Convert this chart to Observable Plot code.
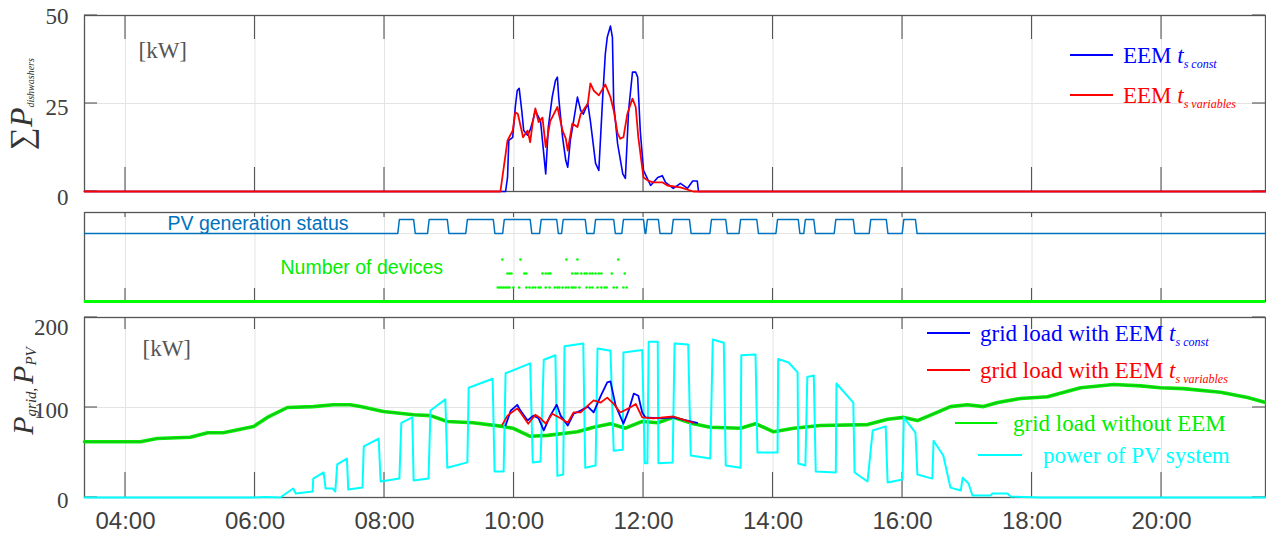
<!DOCTYPE html>
<html><head><meta charset="utf-8">
<script src="https://cdn.jsdelivr.net/npm/d3@7"></script>
<script src="https://cdn.jsdelivr.net/npm/@observablehq/plot@0.6"></script>
<style>
html,body{margin:0;padding:0;background:#fff;}
#chart{position:relative;width:1266px;height:535px;overflow:hidden;background:#fff;}
#chart svg{position:absolute;left:0;overflow:visible;}
</style></head><body><div id="chart"></div>
<script>
// ---------- x axis (time of day in hours) ----------
const xTickHours = [4,6,8,10,12,14,16,18,20];
const xDomain = [3.367, 21.606];

// ---------- top panel: sum of dishwasher power [kW] ----------
const dwConst = [[3.367,0],[9.87,0],[9.90,4],[9.92,14.5],[9.98,15.4],[10.02,24],[10.05,28.7],[10.08,29.3],[10.12,23],[10.15,17.3],[10.21,16],[10.25,17.5],[10.29,20],[10.33,23],[10.41,20],[10.49,5],[10.53,18.3],[10.59,26.8],[10.64,31.5],[10.67,32.5],[10.69,26.8],[10.75,15.4],[10.80,8.8],[10.83,6.9],[10.87,14.5],[10.92,20],[10.98,26.8],[11.03,23],[11.07,22],[11.14,25],[11.18,20],[11.26,8],[11.31,6],[11.37,26.8],[11.41,39],[11.44,43.8],[11.49,47],[11.52,43.8],[11.54,25],[11.60,13.6],[11.68,5],[11.72,3.7],[11.77,23],[11.83,33.9],[11.88,33.9],[11.91,32.5],[11.95,17.3],[12.00,6],[12.11,1.7],[12.22,4],[12.29,4.5],[12.34,2.6],[12.46,0.9],[12.57,2.3],[12.68,0.9],[12.76,3],[12.83,3],[12.85,0],[21.606,0]];
const dwVar = [[3.367,0],[9.79,0],[9.90,14.5],[9.98,17.3],[10.02,22.5],[10.06,22],[10.14,15.4],[10.21,17.3],[10.25,14],[10.29,19.7],[10.33,23.6],[10.38,19.7],[10.44,21],[10.49,12.6],[10.56,20],[10.67,24],[10.75,17.3],[10.80,15],[10.83,11.6],[10.90,19.3],[10.98,18.3],[11.03,22],[11.14,25],[11.18,30.7],[11.23,28.7],[11.31,27.3],[11.41,30.4],[11.49,26.8],[11.54,23],[11.60,16.5],[11.64,15],[11.69,15.4],[11.75,22],[11.83,26.4],[11.88,24],[11.92,15.4],[12.00,4],[12.08,3],[12.15,2.6],[12.29,2.6],[12.37,1.7],[12.57,1.2],[12.77,0],[21.606,0]];
const topYTicks = [0,25,50];

// ---------- middle panel ----------
const pvStatusOn = [[8.23,8.45],[8.69,8.97],[9.28,9.68],[9.85,10.25],[10.42,10.66],[10.76,11.10],[11.26,11.54],[11.69,12.00],[12.06,12.23],[12.46,12.71],[13.05,13.27],[13.50,13.75],[14.07,14.39],[14.50,14.63],[14.97,15.24],[15.51,15.75],[16.02,16.20]];
const devices1 = [9.75,9.78,9.81,9.84,9.87,9.90,9.93,9.99,10.08,10.19,10.24,10.29,10.33,10.38,10.41,10.49,10.55,10.63,10.67,10.70,10.75,10.80,10.84,10.89,10.92,10.95,11.01,11.12,11.17,11.21,11.29,11.35,11.40,11.43,11.54,11.59,11.69,11.74];
const devices2 = [9.90,9.93,9.96,10.16,10.19,10.44,10.49,10.53,10.56,10.90,10.95,10.98,11.04,11.09,11.12,11.17,11.21,11.26,11.31,11.35,11.51,11.71];
const devices3 = [9.82,10.10,10.81,10.98,11.61];

// ---------- bottom panel: grid load and PV power [kW] ----------
const gridNoEEM = [[3.367,62],[4.23,62],[4.49,65.5],[5.00,67],[5.27,72],[5.51,72],[5.98,79],[6.19,89],[6.50,100],[6.90,101],[7.21,103],[7.47,103],[7.63,101],[7.98,95.5],[8.45,92],[8.71,91],[8.97,84.5],[9.37,83],[9.82,79],[9.98,77],[10.25,68],[10.52,69],[10.98,73],[11.23,78],[11.49,82],[11.72,77],[11.98,84.5],[12.22,83],[12.46,89],[12.77,82],[13.03,78],[13.50,77],[13.73,82],[14.01,73],[14.32,77],[14.73,80],[15.46,81],[15.77,87],[16.02,89],[16.23,85.5],[16.48,93],[16.74,101],[17.00,103],[17.25,101],[17.47,105.5],[17.82,110],[18.24,112],[18.75,122],[19.26,125.5],[19.68,124],[19.98,122],[20.34,121],[20.91,117],[21.33,111],[21.606,105.5]];
const gridConst = [[9.87,80],[9.95,96.5],[10.05,103],[10.10,96.5],[10.21,85.5],[10.30,91],[10.38,88],[10.46,74.5],[10.56,91],[10.66,103],[10.72,91],[10.83,80],[10.92,93],[11.03,96.5],[11.14,101],[11.23,94.5],[11.34,113],[11.44,128],[11.49,129],[11.57,102],[11.69,82],[11.77,96.5],[11.85,115.5],[11.92,113],[11.98,94.5],[12.03,89],[12.26,88],[12.46,89],[12.83,83]];
const gridVar = [[9.82,81],[9.90,91],[10.05,99],[10.10,94.5],[10.22,82],[10.33,92],[10.41,88],[10.49,82],[10.59,93],[10.72,88],[10.83,83],[10.92,94.5],[11.03,94.5],[11.14,102],[11.23,108],[11.34,105.5],[11.44,111],[11.54,104],[11.64,94.5],[11.77,99],[11.88,104],[11.98,89],[12.15,88],[12.46,90],[12.77,83]];
const pvPower = [[3.367,0],[5.96,0],[6.16,0.5],[6.39,0],[6.59,10],[6.63,4.5],[6.89,6.7],[6.90,21],[7.06,27.8],[7.09,10],[7.20,10],[7.24,6.7],[7.27,36.7],[7.42,43.3],[7.44,8.9],[7.66,11],[7.68,56.7],[7.91,65.5],[7.94,17.8],[8.23,21],[8.26,83],[8.43,89],[8.45,18.9],[8.68,21],[8.71,96.7],[8.94,109],[8.97,33],[9.28,39],[9.30,122],[9.67,132],[9.70,29],[9.84,29],[9.87,138],[10.25,149],[10.29,39],[10.41,40],[10.46,153],[10.64,158],[10.67,24],[10.76,25.6],[10.78,168],[11.07,171],[11.10,33],[11.26,35.6],[11.29,165.5],[11.49,163],[11.54,52],[11.68,53],[11.69,161],[11.98,164],[12.02,38],[12.06,38],[12.08,173],[12.22,173],[12.23,38],[12.45,39],[12.48,171],[12.69,170],[12.73,46.7],[13.03,43.3],[13.07,175.5],[13.24,172],[13.27,35.6],[13.50,33],[13.51,158],[13.73,159],[13.76,50],[14.07,50],[14.08,154],[14.24,150],[14.38,139],[14.39,37.8],[14.50,35.6],[14.53,134],[14.63,135.5],[14.66,29],[14.97,27.8],[14.98,126.7],[15.24,105.5],[15.26,27.8],[15.46,17.8],[15.54,74.5],[15.74,79],[15.77,16.7],[16.00,20],[16.02,89],[16.20,72],[16.23,25.6],[16.46,21],[16.48,63],[16.63,46.7],[16.74,11],[16.90,7.8],[16.93,22],[17.02,15.5],[17.08,2.2],[17.36,2.2],[17.39,4.5],[17.62,4.5],[17.67,1],[18.13,0],[21.606,0]];
const bottomYTicks = [0,100,200];

// ---------- labels ----------
const topLegend = [{label:"EEM ", sub:"s const", color:"#0000ff"},{label:"EEM ", sub:"s variables", color:"#ff0000"}];
const bottomLegend = [
  {label:"grid load with EEM ", sub:"s const", color:"#0000ff"},
  {label:"grid load with EEM ", sub:"s variables", color:"#ff0000"},
  {label:"grid load without EEM", color:"#00ee00"},
  {label:"power of PV system", color:"#00ffff"}];

const SERIF = "Liberation Serif, Times New Roman, serif";
const SANS = "Liberation Sans, Arial, sans-serif";
const GRID = "#e4e4e4";
const STATUS_BASE = 4.86;

function boxTicks(yTicks, topLen, botLen, sideLen) {
  return (index, scales, values, dim) => {
    const g = d3.create("svg:g").attr("stroke", "#555").attr("stroke-width", 1.1);
    const yb = dim.height - dim.marginBottom, yt = dim.marginTop;
    const xl = dim.marginLeft, xr = dim.width - dim.marginRight;
    for (const h of xTickHours) {
      const px = scales.x(h);
      if (topLen) g.append("line").attr("x1",px).attr("x2",px).attr("y1",yt).attr("y2",yt+topLen);
      if (botLen) g.append("line").attr("x1",px).attr("x2",px).attr("y1",yb).attr("y2",yb-botLen);
    }
    for (const v of yTicks) {
      const py = scales.y(v);
      g.append("line").attr("x1",xl).attr("x2",xl+sideLen).attr("y1",py).attr("y2",py);
      g.append("line").attr("x1",xr).attr("x2",xr-sideLen).attr("y1",py).attr("y2",py);
    }
    return g.node();
  };
}

function legendMark(items, rows) {
  return () => {
    const g = d3.create("svg:g").attr("font-family", SERIF).attr("font-size", 23).attr("text-anchor", "start");
    items.forEach((it, i) => {
      const r = rows[i];
      g.append("line").attr("x1", r.x1).attr("x2", r.x2).attr("y1", r.y).attr("y2", r.y)
        .attr("stroke", it.color).attr("stroke-width", 2);
      const t = g.append("text").attr("x", r.tx).attr("y", r.y + 8).attr("fill", it.color).attr("text-anchor", "start");
      t.append("tspan").text(it.label);
      if (it.sub) {
        t.append("tspan").attr("font-style","italic").text("t");
        t.append("tspan").attr("font-style","italic").attr("font-size",12).attr("dy",5).text(it.sub);
      }
    });
    return g.node();
  };
}

const chart = document.getElementById("chart");

// ================= TOP PANEL =================
const topPlot = Plot.plot({
  width: 1266, height: 205, marginLeft: 84, marginRight: 1, marginTop: 15, marginBottom: 14,
  style: {background: "transparent", overflow: "visible"},
  x: {domain: xDomain, axis: null},
  y: {domain: [0, 50], axis: null},
  marks: [
    Plot.gridX(xTickHours, {stroke: GRID, strokeOpacity: 1}),
    Plot.gridY([25], {stroke: GRID, strokeOpacity: 1}),
    Plot.frame({stroke: "#555", strokeWidth: 1.3}),
    boxTicks(topYTicks, 24, 24, 13),
    Plot.line(dwConst, {x: d => d[0], y: d => d[1], stroke: "#0000ff", strokeWidth: 1.6}),
    Plot.line(dwVar, {x: d => d[0], y: d => d[1], stroke: "#ff0000", strokeWidth: 1.8}),
    Plot.axisY([50], {tickSize: 0, tickPadding: 16, fontSize: 23, fontFamily: SERIF, color: "#404040", label: null, dy: 1}),
    Plot.axisY([25], {tickSize: 0, tickPadding: 16, fontSize: 23, fontFamily: SERIF, color: "#404040", label: null, dy: 4}),
    Plot.axisY([0], {tickSize: 0, tickPadding: 16, fontSize: 23, fontFamily: SERIF, color: "#404040", label: null, dy: 6}),
    Plot.text(["[kW]"], {frameAnchor: "top-left", dx: 54, dy: 35, lineAnchor: "middle", textAnchor: "start", fontSize: 23, fontFamily: SERIF, fill: "#555"}),
    legendMark(topLegend, [{x1:1070,x2:1113,y:55,tx:1123},{x1:1070,x2:1113,y:95,tx:1123}]),
    () => {
      const t = d3.create("svg:text").attr("transform","translate(32,104) rotate(-90)")
        .attr("text-anchor","middle").attr("font-family",SERIF).attr("fill","#333");
      t.append("tspan").attr("font-size",32).text("∑");
      t.append("tspan").attr("font-size",32).attr("font-style","italic").text("P");
      t.append("tspan").attr("font-size",10).attr("font-style","italic").attr("dy",2).text("dishwashers");
      return t.node();
    }
  ]
});
topPlot.style.top = "0px";
chart.append(topPlot);

// ================= MIDDLE PANEL =================
const statusPts = [[xDomain[0], 0]];
for (const [a, b] of pvStatusOn) statusPts.push([a - 0.025, 0], [a, 1], [b, 1], [b + 0.025, 0]);
statusPts.push([xDomain[1], 0]);
const devTable = [
  ...devices1.map(t => ({t, n: 1})),
  ...devices2.map(t => ({t, n: 2})),
  ...devices3.map(t => ({t, n: 3}))];

const midPlot = Plot.plot({
  width: 1266, height: 105, marginLeft: 84, marginRight: 1, marginTop: 7, marginBottom: 9,
  style: {background: "transparent", overflow: "visible"},
  x: {domain: xDomain, axis: null},
  y: {domain: [0, 6.36], axis: null},
  marks: [
    Plot.gridX(xTickHours, {stroke: GRID, strokeOpacity: 1}),
    Plot.gridY([STATUS_BASE], {stroke: GRID, strokeOpacity: 1}),
    Plot.frame({stroke: "#555", strokeWidth: 1.3}),
    boxTicks([], 5, 13, 0),
    Plot.line(statusPts, {x: d => d[0], y: d => STATUS_BASE + d[1], stroke: "#0072bd", strokeWidth: 1.5}),
    Plot.dot(devTable, {x: "t", y: "n", r: 1.3, fill: "#00ff00", stroke: null}),
    Plot.ruleY([0], {stroke: "#00ff00", strokeWidth: 3}),
    Plot.text(["PV generation status"], {frameAnchor: "top-left", dx: 83, dy: 11, lineAnchor: "middle", textAnchor: "start", fontSize: 19.5, fontFamily: SANS, fill: "#0072bd"}),
    Plot.text(["Number of devices"], {frameAnchor: "top-left", dx: 196, dy: 55, lineAnchor: "middle", textAnchor: "start", fontSize: 19.5, fontFamily: SANS, fill: "#00ee00"})
  ]
});
midPlot.style.top = "205px";
chart.append(midPlot);

// ================= BOTTOM PANEL =================
const pad2 = h => String(h).padStart(2, "0") + ":00";
const botPlot = Plot.plot({
  width: 1266, height: 225, marginLeft: 84, marginRight: 1, marginTop: 7, marginBottom: 38,
  style: {background: "transparent", overflow: "visible"},
  x: {domain: xDomain},
  y: {domain: [0, 200], axis: null},
  marks: [
    Plot.gridX(xTickHours, {stroke: GRID, strokeOpacity: 1}),
    Plot.gridY([100], {stroke: GRID, strokeOpacity: 1}),
    Plot.frame({stroke: "#555", strokeWidth: 1.3}),
    boxTicks(bottomYTicks, 12, 25, 13),
    Plot.line(gridNoEEM, {x: d => d[0], y: d => d[1], stroke: "#00ee00", strokeWidth: 3.6}),
    Plot.line(gridNoEEM, {x: d => d[0], y: d => d[1], stroke: "#2f8f2f", strokeWidth: 0.8, strokeOpacity: 0.8}),
    Plot.line(pvPower, {x: d => d[0], y: d => d[1], stroke: "#00ffff", strokeWidth: 2}),
    Plot.line(gridConst, {x: d => d[0], y: d => d[1], stroke: "#0000ff", strokeWidth: 1.8}),
    Plot.line(gridVar, {x: d => d[0], y: d => d[1], stroke: "#ff0000", strokeWidth: 1.8}),
    Plot.axisX(xTickHours, {tickSize: 0, tickPadding: 14, fontSize: 24, fontFamily: SANS, color: "#404040", label: null, tickFormat: pad2}),
    Plot.axisY([0, 100], {tickSize: 0, tickPadding: 16, fontSize: 23, fontFamily: SERIF, color: "#404040", label: null, dy: 3}),
    Plot.axisY([200], {tickSize: 0, tickPadding: 16, fontSize: 23, fontFamily: SERIF, color: "#404040", label: null, dy: 10}),
    Plot.text(["[kW]"], {frameAnchor: "top-left", dx: 58, dy: 31, lineAnchor: "middle", textAnchor: "start", fontSize: 23, fontFamily: SERIF, fill: "#555"}),
    legendMark(bottomLegend, [
      {x1:927,x2:970,y:23,tx:980},{x1:927,x2:970,y:60,tx:980},
      {x1:955,x2:997,y:113,tx:1013},{x1:978,x2:1022,y:145,tx:1043}]),
    () => {
      const t = d3.create("svg:text").attr("transform","translate(33,81) rotate(-90)")
        .attr("text-anchor","middle").attr("font-family",SERIF).attr("fill","#333");
      t.append("tspan").attr("font-size",30).attr("font-style","italic").text("P");
      t.append("tspan").attr("font-size",15).attr("font-style","italic").attr("dy",3).text("grid");
      t.append("tspan").attr("font-size",15).text(", ");
      t.append("tspan").attr("font-size",30).attr("font-style","italic").attr("dy",-3).text("P");
      t.append("tspan").attr("font-size",15).attr("font-style","italic").attr("dy",3).text("PV");
      return t.node();
    }
  ]
});
botPlot.style.top = "310px";
chart.append(botPlot);
</script></body></html>
